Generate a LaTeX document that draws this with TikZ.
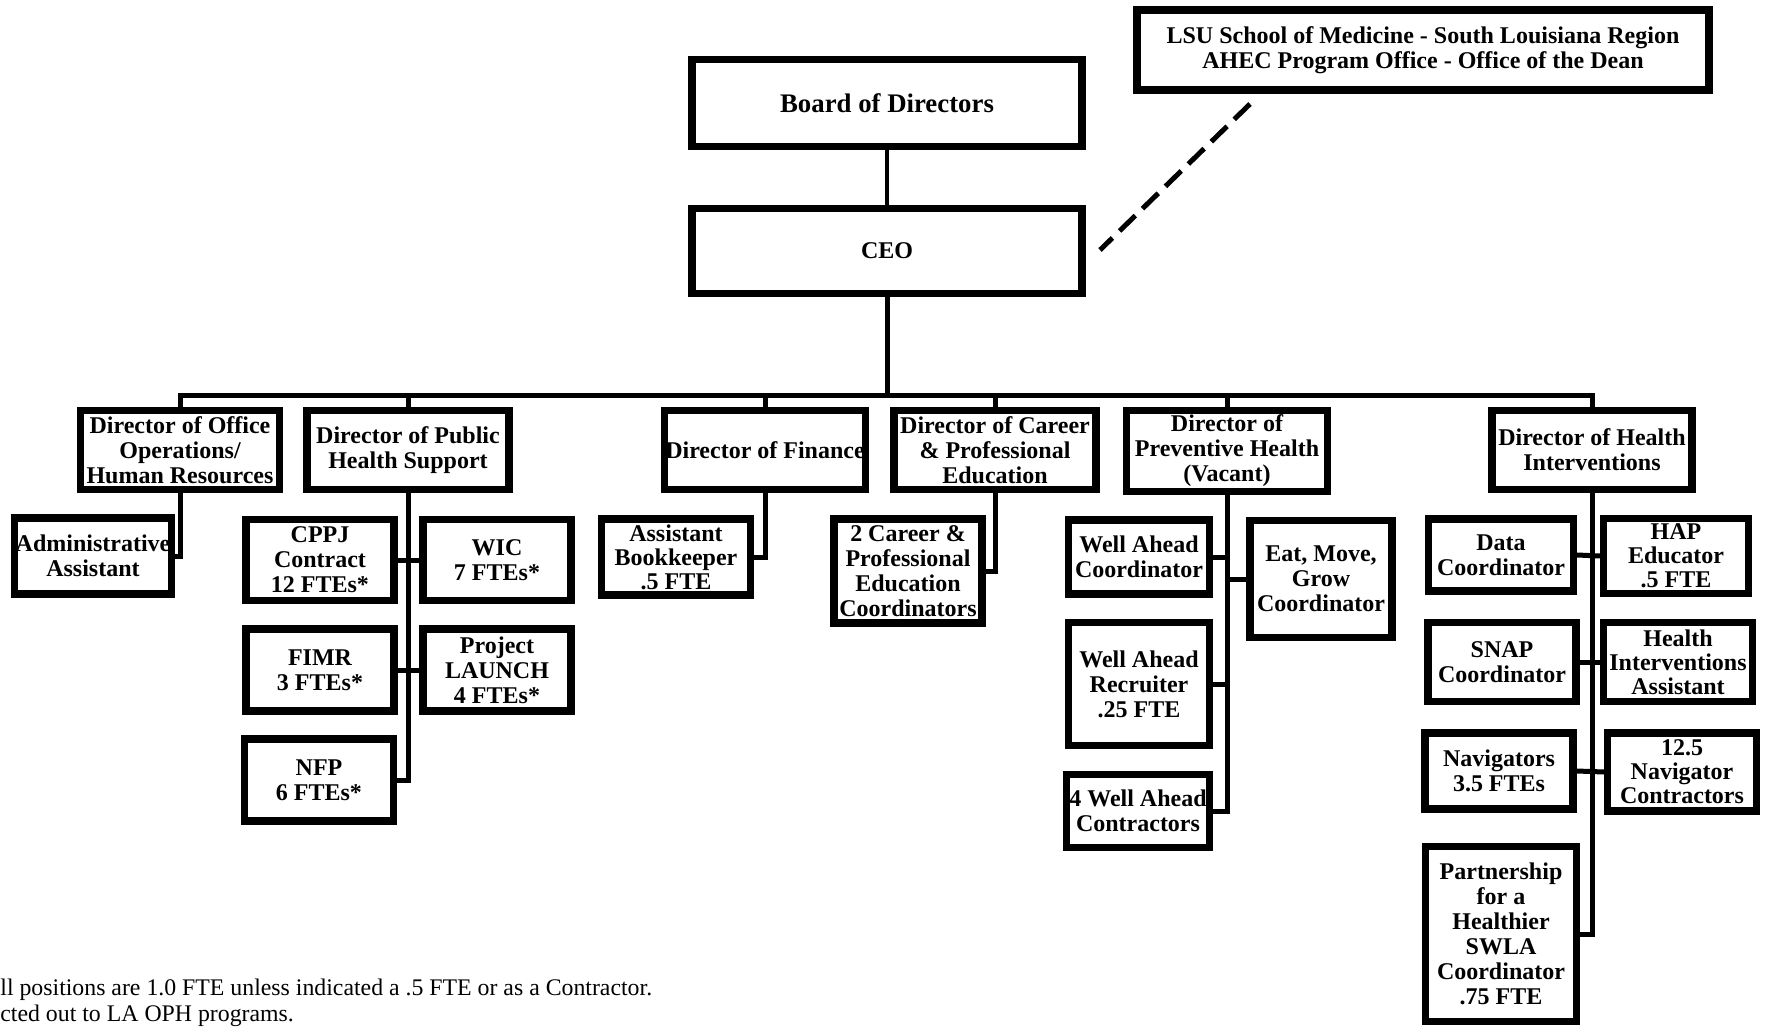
\documentclass[tikz,border=0pt]{standalone}
\usepackage{fontspec}
\setmainfont{Liberation Serif}
\usetikzlibrary{shadows}
\tikzset{
	box/.style={draw, line width=3.6pt, fill=white, align=center, inner sep=0pt,
		font=\bfseries\fontsize{12}{12.5}\selectfont,
		drop shadow={shadow xshift=1pt, shadow yshift=-1.8pt, opacity=0.35}},
	sz/.style 2 args={minimum width=#1*0.5pt, minimum height=#2*0.5pt},
	tight/.style={font=\bfseries\fontsize{12}{12}\selectfont},
	link/.style={line width=2.5pt},
	note/.style={font=\fontsize{11.9}{13}\selectfont, anchor=base west, inner sep=0pt},
}
\begin{document}
\begin{tikzpicture}[x=0.5pt, y=-0.5pt]
			\useasboundingbox (0,0) rectangle (1769,1027);
			
			\node[box, sz={390}{87}, font=\bfseries\fontsize{13.4}{14}\selectfont] (BOARD) at (887,103) {Board of Directors};
			\node[box, sz={390}{85}] (CEO) at (887,251) {CEO};
			\node[box, sz={572}{80}] (LSU) at (1423,50) {LSU School of Medicine - South Louisiana Region\\AHEC Program Office - Office of the Dean};
			
			\node[box, sz={199}{79}] (OPS) at (180,450) {Director of Office\\Operations/\\Human Resources};
			\node[box, sz={202}{79}] (PHS) at (408,450) {Director of Public\\Health Support};
			\node[box, sz={201}{79}] (FIN) at (765,450) {Director of Finance};
			\node[box, sz={202}{79}] (CPE) at (995,450) {Director of Career\\\& Professional\\Education};
			\node[box, sz={201}{81}] (PREV) at (1227,451) {Director of\\Preventive Health\\(Vacant)};
			\node[box, sz={200}{79}] (HI) at (1592,450) {Director of Health\\Interventions};
			
			\node[box, sz={157}{76}] (ADMIN) at (93,556) {Administrative\\Assistant};
			\node[box, sz={148}{81}] (CPPJ) at (320,560) {CPPJ\\Contract\\12 FTEs*};
			\node[box, sz={148}{81}] (WIC) at (497,560) {WIC\\7 FTEs*};
			\node[box, sz={148}{82}] (FIMR) at (320,670) {FIMR\\3 FTEs*};
			\node[box, sz={148}{82}] (LAUNCH) at (497,670) {Project\\LAUNCH\\4 FTEs*};
			\node[box, sz={149}{82}] (NFP) at (319,780) {NFP\\6 FTEs*};
			\node[box, tight, sz={149}{76}] (BOOK) at (676,557) {Assistant\\Bookkeeper\\.5 FTE};
			\node[box, sz={148}{104}] (CPEC) at (908,571) {2 Career \&\\Professional\\Education\\Coordinators};
			\node[box, sz={141}{74}] (WAC) at (1139,557) {Well Ahead\\Coordinator};
			\node[box, sz={142}{117}] (EMG) at (1321,579) {Eat, Move,\\Grow\\Coordinator};
			\node[box, sz={141}{123}] (WAR) at (1139,684) {Well Ahead\\Recruiter\\.25 FTE};
			\node[box, sz={143}{73}] (WACON) at (1138,811) {4 Well Ahead\\Contractors};
			\node[box, sz={145}{72}] (DATA) at (1501,555) {Data\\Coordinator};
			\node[box, tight, sz={145}{75}] (HAP) at (1676,556) {HAP\\Educator\\.5 FTE};
			\node[box, sz={148}{79}] (SNAP) at (1502,662) {SNAP\\Coordinator};
			\node[box, tight, sz={149}{79}] (HIA) at (1678,662) {Health\\Interventions\\Assistant};
			\node[box, sz={148}{76}] (NAV) at (1499,771) {Navigators\\3.5 FTEs};
			\node[box, tight, sz={149}{78}] (NAVC) at (1682,772) {12.5\\Navigator\\Contractors};
			\node[box, sz={151}{175}] (PSWLA) at (1501,934) {Partnership\\for a\\Healthier\\SWLA\\Coordinator\\.75 FTE};
			
			\node[note] (NOTE1) at (0,995) {ll positions are 1.0 FTE unless indicated a .5 FTE or as a Contractor.};
			\node[note] (NOTE2) at (0,1021) {cted out to LA OPH programs.};
			
			\coordinate (BUS) at (887,396);
			\coordinate (DASHA) at (1250,104);
			\coordinate (DASHB) at (1100,250);
			
			\draw[line width=2pt] (BOARD) -- (CEO);
			\draw[line width=2.5pt, dash pattern=on 11pt off 5pt] (DASHA) -- (DASHB);
			\draw[link] (CEO.south) -- (BUS);
			\draw[link] (OPS.north) |- (BUS) -| (HI.north);
			\foreach \d in {PHS, FIN, CPE, PREV}
				\draw[link] (\d.north) -- (\d.north |- BUS);
			
			\draw[link] (OPS.south) |- (ADMIN.east);
			\draw[link] (PHS.south) |- (NFP.east);
			\draw[link] (CPPJ.east) -- (WIC.west);
			\draw[link] (FIMR.east) -- (LAUNCH.west);
			\draw[link] (FIN.south) |- (BOOK.east);
			\draw[link] (CPE.south) |- (CPEC.east);
			\draw[link] (PREV.south) |- (WACON.east);
			\draw[link] (WAC.east) -- (WAC.east -| PREV.south);
			\draw[link] (WAR.east) -- (WAR.east -| PREV.south);
			\draw[link] (EMG.west) -- (EMG.west -| PREV.south);
			\draw[link] (HI.south) |- (PSWLA.east);
			\draw[link] (DATA.east) -- (HAP.west);
			\draw[link] (SNAP.east) -- (HIA.west);
			\draw[link] (NAV.east) -- (NAVC.west);
			
		\end{tikzpicture}
\end{document}
